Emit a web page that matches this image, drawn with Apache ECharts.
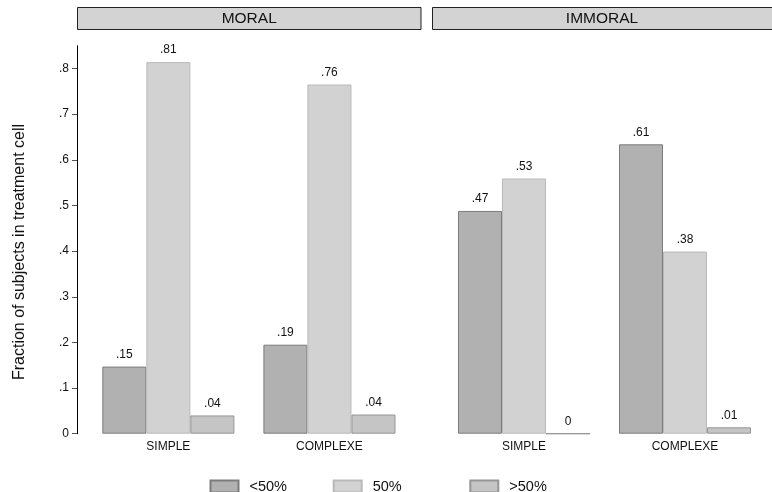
<!DOCTYPE html>
<html>
<head>
<meta charset="utf-8">
<script src="https://cdn.jsdelivr.net/npm/echarts@6/dist/echarts.min.js"></script>
<style>html,body{margin:0;padding:0;background:#fff}#c{width:772px;height:492px}</style>
</head>
<body>
<div id="c"></div>
<script>
const categories = ['SIMPLE', 'COMPLEXE'];
const panels = ['MORAL', 'IMMORAL'];
const seriesNames = ['<50%', '50%', '>50%'];
const moralLow = [0.147, 0.195];
const moralMid = [0.814, 0.765];
const moralHigh = [0.040, 0.042];
const immoralLow = [0.488, 0.634];
const immoralMid = [0.559, 0.399];
const immoralHigh = [0, 0.014];
const moralLowLbl = ['.15', '.19'];
const moralMidLbl = ['.81', '.76'];
const moralHighLbl = ['.04', '.04'];
const immoralLowLbl = ['.47', '.61'];
const immoralMidLbl = ['.53', '.38'];
const immoralHighLbl = ['0', '.01'];
const yTicks = [0, 0.1, 0.2, 0.3, 0.4, 0.5, 0.6, 0.7, 0.8];
const yTickLabels = ['0', '.1', '.2', '.3', '.4', '.5', '.6', '.7', '.8'];

const FONT = 'Liberation Sans, Arial, Helvetica, sans-serif';
const fills = ['#b1b1b1', '#d2d2d2', '#c5c5c5'];
const borders = ['#7c7c7c', '#b9b9b9', '#969696'];

function mkSeries(name, idx, data, labels, gi) {
  return {
    type: 'bar', name: name, xAxisIndex: gi, yAxisIndex: gi, data: data,
    barGap: '0%', barCategoryGap: '18%',
    itemStyle: { color: fills[idx], borderColor: borders[idx], borderWidth: 1 },
    label: {
      show: true, position: 'top', distance: 6, color: '#111',
      fontFamily: FONT, fontSize: 12,
      formatter: p => labels[p.dataIndex]
    },
    emphasis: { disabled: true }
  };
}

const yAxisBase = {
  type: 'value', min: 0, max: 0.85,
  splitLine: { show: false }
};

const chart = echarts.init(document.getElementById('c'), null, { renderer: 'canvas' });
chart.setOption({
  animation: false,
  backgroundColor: '#fff',
  grid: [
    { left: 87.8, width: 322.2, top: 45.7, bottom: 58.3 },
    { left: 443.5, width: 322, top: 45.7, bottom: 58.3 }
  ],
  xAxis: [0, 1].map(i => ({
    type: 'category', gridIndex: i, data: categories,
    axisLine: { show: false }, axisTick: { show: false },
    axisLabel: { color: '#111', fontFamily: FONT, fontSize: 12, margin: 7 }
  })),
  yAxis: [
    Object.assign({}, yAxisBase, {
      gridIndex: 0, offset: 10.8,
      axisLine: { show: true, lineStyle: { color: '#000', width: 1 } },
      axisTick: { show: true, length: 5, lineStyle: { color: '#555' }, customValues: yTicks },
      axisLabel: {
        show: true, color: '#111', fontFamily: FONT, fontSize: 12, margin: 8,
        customValues: yTicks,
        formatter: v => yTickLabels[yTicks.findIndex(t => Math.abs(t - v) < 1e-9)] || ''
      }
    }),
    Object.assign({}, yAxisBase, {
      gridIndex: 1, show: false
    })
  ],
  legend: seriesNames.map((n, i) => ({
    data: [n], left: [209.5, 332.7, 469.3][i], top: 479, padding: 0,
    itemWidth: 28, itemHeight: 12, icon: 'rect',
    selectedMode: false,
    textStyle: { color: '#111', fontFamily: FONT, fontSize: 14.5, lineHeight: 12, padding: [2, 0, 0, 6] }
  })),
  graphic: [
    { type: 'rect', shape: { x: 77.5, y: 7.5, width: 343.5, height: 22 },
      style: { fill: '#d3d3d3', stroke: '#222', lineWidth: 1 }, silent: true },
    { type: 'rect', shape: { x: 432.5, y: 7.5, width: 345, height: 22 },
      style: { fill: '#d3d3d3', stroke: '#222', lineWidth: 1 }, silent: true },
    { type: 'text', x: 249.2, y: 18.5, silent: true,
      style: { text: panels[0], fill: '#111', font: '15.5px ' + FONT, align: 'center', verticalAlign: 'middle' } },
    { type: 'text', x: 602, y: 18.5, silent: true,
      style: { text: panels[1], fill: '#111', font: '15.5px ' + FONT, align: 'center', verticalAlign: 'middle' } },
    { type: 'text', x: 20, y: 252, rotation: Math.PI / 2, silent: true,
      style: { text: 'Fraction of subjects in treatment cell', fill: '#111', font: '16px ' + FONT, align: 'center', verticalAlign: 'middle' } }
  ],
  series: [
    mkSeries(seriesNames[0], 0, moralLow, moralLowLbl, 0),
    mkSeries(seriesNames[1], 1, moralMid, moralMidLbl, 0),
    mkSeries(seriesNames[2], 2, moralHigh, moralHighLbl, 0),
    mkSeries(seriesNames[0], 0, immoralLow, immoralLowLbl, 1),
    mkSeries(seriesNames[1], 1, immoralMid, immoralMidLbl, 1),
    mkSeries(seriesNames[2], 2, immoralHigh, immoralHighLbl, 1)
  ]
});
</script>
</body>
</html>
